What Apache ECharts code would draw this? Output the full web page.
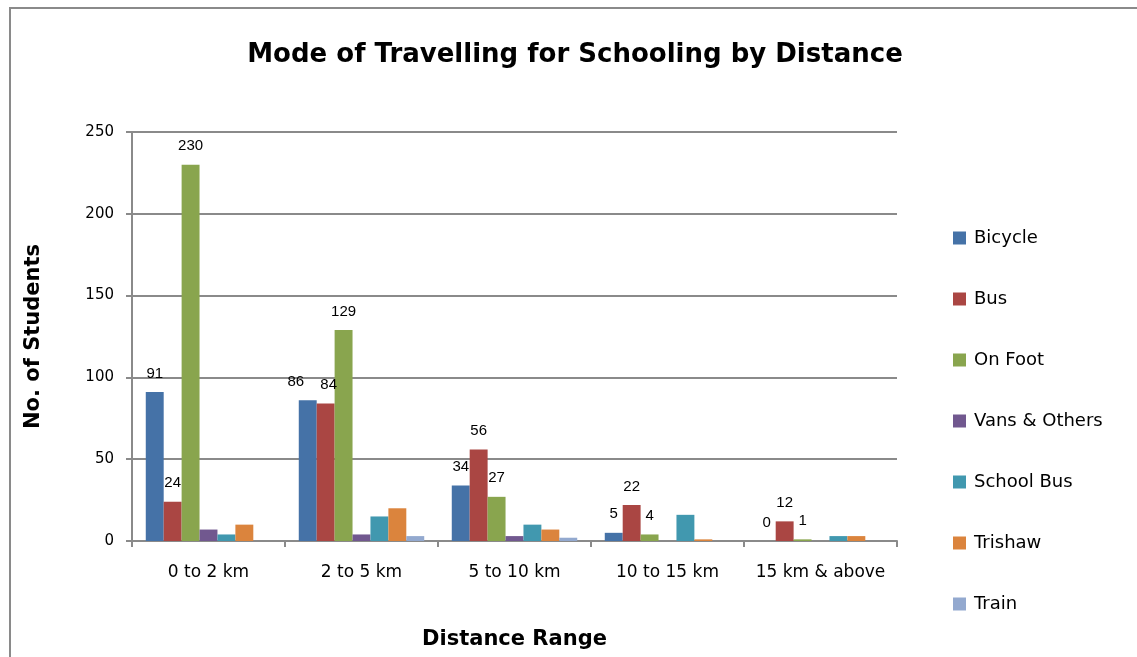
<!DOCTYPE html>
<html>
<head>
<meta charset="utf-8">
<script src="https://cdn.jsdelivr.net/npm/echarts@6/dist/echarts.min.js"></script>
<style>
  html, body { margin: 0; padding: 0; background: #fff; }
  #chart { width: 1137px; height: 657px; }
</style>
</head>
<body>
<div id="chart"></div>
<script>
// Distance ranges (categories)
const distances = ['0 to 2 km', '2 to 5 km', '5 to 10 km', '10 to 15 km', '15 km & above'];

// Students per travel mode in each distance range
const bicycle   = [91, 86, 34, 5, 0];
const bus       = [24, 84, 56, 22, 12];
const onFoot    = [230, 129, 27, 4, 1];
const vans      = [7, 4, 3, 0, 0];
const schoolBus = [4, 15, 10, 16, 3];
const trishaw   = [10, 20, 7, 1, 3];
const train     = [0, 3, 2, 0, 0];

const modeNames = ['Bicycle', 'Bus', 'On Foot', 'Vans & Others', 'School Bus', 'Trishaw', 'Train'];
const modeValues = [bicycle, bus, onFoot, vans, schoolBus, trishaw, train];
const modeColors = ['#4572A7', '#AA4643', '#89A54E', '#71588F', '#4198AF', '#DB843D', '#93A9CF'];
// Only the first three modes carry value labels
const labelled = [true, true, true, false, false, false, false];
// Small nudges keep neighbouring value labels apart in the 2 to 5 km group
const labelNudge = {
  0: { 1: [-12, 0] },
  1: { 1: [3, 0] }
};

const gridColor = '#8a8a8a';
const labelFont = 'DejaVu Sans, Liberation Sans, sans-serif';
const boldFont = 'DejaVu Sans, Open Sans, sans-serif';

const series = modeNames.map((name, i) => ({
  name: name,
  type: 'bar',
  data: modeValues[i].map((v, j) => {
    const nudge = labelNudge[i] && labelNudge[i][j];
    return nudge ? { value: v, label: { offset: nudge } } : v;
  }),
  barGap: '0%',
  barCategoryGap: '18%',
  itemStyle: { color: modeColors[i] },
  label: {
    show: labelled[i],
    position: 'top',
    distance: 11,
    color: '#000',
    fontSize: 15,
    fontFamily: 'Liberation Sans, Arial, sans-serif'
  }
}));

const chart = echarts.init(document.getElementById('chart'), null, { renderer: 'canvas' });
chart.setOption({
  animation: false,
  backgroundColor: '#fff',
  title: {
    text: 'Mode of Travelling for Schooling by Distance',
    left: 570,
    top: 37,
    textAlign: 'center',
    textStyle: { fontFamily: boldFont, fontWeight: 'bold', fontSize: 26, color: '#000' }
  },
  graphic: [{
    type: 'rect',
    shape: { x: 10, y: 8, width: 1200, height: 700 },
    style: { fill: 'none', stroke: '#8a8a8a', lineWidth: 2 },
    silent: true,
    z: -1
  }],
  legend: {
    orient: 'vertical',
    left: 948,
    top: 223,
    itemWidth: 13,
    itemHeight: 13,
    itemGap: 41,
    icon: 'rect',
    textStyle: { fontFamily: labelFont, fontSize: 18, color: '#000', lineHeight: 20, padding: [0, 0, 0, 3] },
    data: modeNames
  },
  grid: { left: 132, right: 240, top: 132, bottom: 116, outerBoundsMode: 'none', containLabel: false },
  xAxis: {
    type: 'category',
    data: distances,
    name: 'Distance Range',
    nameLocation: 'middle',
    nameGap: 88,
    nameTextStyle: { fontFamily: boldFont, fontWeight: 'bold', fontSize: 21, color: '#000' },
    axisLine: { lineStyle: { color: gridColor, width: 2 } },
    axisTick: { show: true, alignWithLabel: false, length: 6, lineStyle: { color: gridColor, width: 2 } },
    axisLabel: { fontFamily: labelFont, fontSize: 17, color: '#000', margin: 23, interval: 0 }
  },
  yAxis: {
    type: 'value',
    min: 0,
    max: 250,
    interval: 50,
    name: 'No. of Students',
    nameLocation: 'middle',
    nameGap: 88,
    nameRotate: 90,
    nameTextStyle: { fontFamily: boldFont, fontWeight: 'bold', fontSize: 21, color: '#000' },
    axisLine: { show: true, lineStyle: { color: gridColor, width: 2 } },
    axisTick: { show: true, length: 6, lineStyle: { color: gridColor, width: 2 } },
    splitLine: { show: true, lineStyle: { color: gridColor, width: 2 } },
    axisLabel: { fontFamily: labelFont, fontSize: 15, color: '#000', margin: 18 }
  },
  series: series
});
</script>
</body>
</html>
